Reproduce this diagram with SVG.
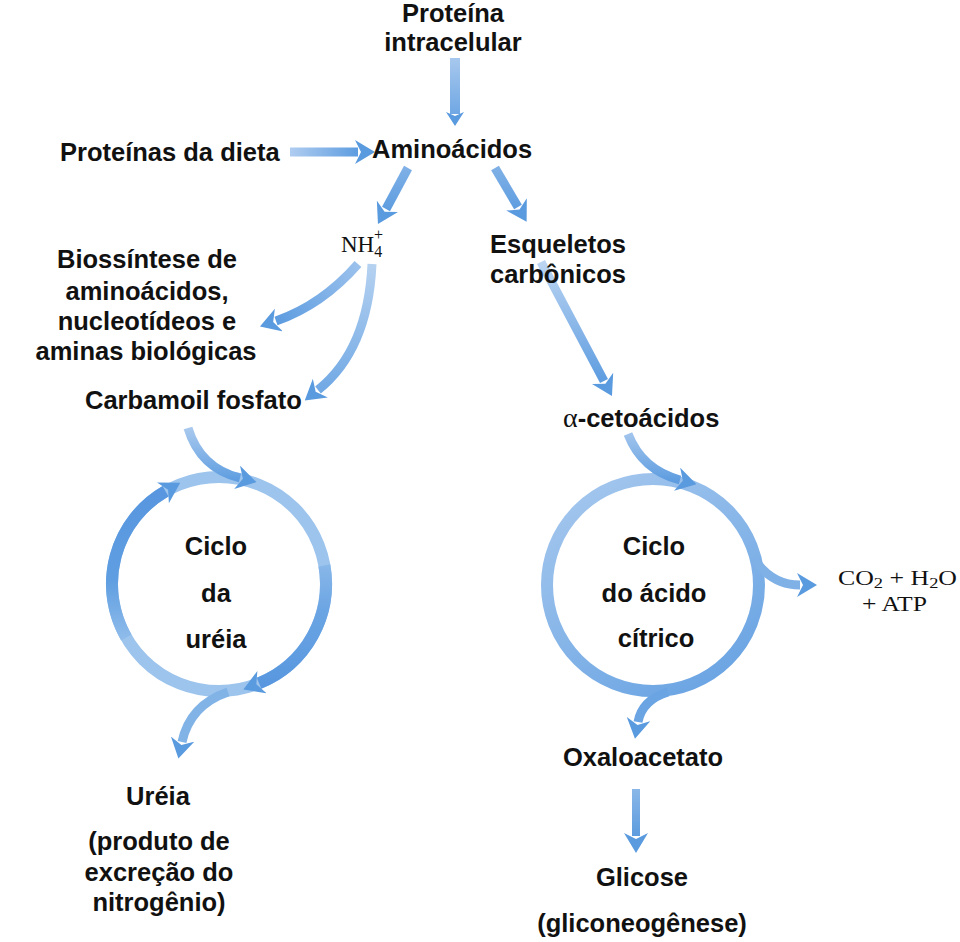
<svg xmlns="http://www.w3.org/2000/svg" width="960" height="942" viewBox="0 0 960 942">
<style>
.t{font-family:"Liberation Sans",Arial,sans-serif;font-weight:bold;font-size:25.5px;fill:#111}
.m{text-anchor:middle}
.s{font-family:"Liberation Serif","Times New Roman",serif;font-weight:normal;fill:#111}
.c{fill:none;stroke-linecap:butt}
</style>
<defs>
<marker id="ah" viewBox="0 0 20 24" refX="3" refY="12" markerWidth="20" markerHeight="24" markerUnits="userSpaceOnUse" orient="auto">
<path d="M0,0 L20,12 L0,24 L6,12 z" fill="#5a9ade"/>
</marker>
<marker id="ahs" viewBox="0 0 14 18" refX="2" refY="9" markerWidth="14" markerHeight="18" markerUnits="userSpaceOnUse" orient="auto">
<path d="M0,0 L14,9 L0,18 L4,9 z" fill="#5a9ade"/>
</marker>
<linearGradient id="g1" gradientUnits="userSpaceOnUse" x1="0" y1="56" x2="0" y2="118"><stop offset="0" stop-color="#a9c9ee"/><stop offset="1" stop-color="#6ca5e3"/></linearGradient>
<linearGradient id="g2" gradientUnits="userSpaceOnUse" x1="290" y1="0" x2="360" y2="0"><stop offset="0" stop-color="#b0cdf0"/><stop offset="1" stop-color="#5b9be0"/></linearGradient>
<linearGradient id="g3" gradientUnits="userSpaceOnUse" x1="0" y1="168" x2="0" y2="210"><stop offset="0" stop-color="#7fb0e6"/><stop offset="1" stop-color="#5e9de0"/></linearGradient>
<linearGradient id="g5" gradientUnits="userSpaceOnUse" x1="360" y1="264" x2="276" y2="321"><stop offset="0" stop-color="#9cc2ed"/><stop offset="1" stop-color="#5d9ce0"/></linearGradient>
<linearGradient id="g6" gradientUnits="userSpaceOnUse" x1="0" y1="264" x2="0" y2="392"><stop offset="0" stop-color="#b6d2f1"/><stop offset="1" stop-color="#70a8e4"/></linearGradient>
<linearGradient id="g7" gradientUnits="userSpaceOnUse" x1="0" y1="262" x2="0" y2="382"><stop offset="0" stop-color="#bcd5f2"/><stop offset="1" stop-color="#5d9ce0"/></linearGradient>
<linearGradient id="g8" gradientUnits="userSpaceOnUse" x1="0" y1="789" x2="0" y2="838"><stop offset="0" stop-color="#8ab7e8"/><stop offset="1" stop-color="#5a9ade"/></linearGradient>
<linearGradient id="gin" gradientUnits="userSpaceOnUse" x1="0" y1="428" x2="0" y2="482"><stop offset="0" stop-color="#a9c9ee"/><stop offset="1" stop-color="#5d9ce0"/></linearGradient>
<linearGradient id="gcit" gradientUnits="userSpaceOnUse" x1="560" y1="480" x2="700" y2="700"><stop offset="0" stop-color="#a6c8ee"/><stop offset="1" stop-color="#6aa4e3"/></linearGradient>
<linearGradient id="gul" gradientUnits="userSpaceOnUse" x1="0" y1="650" x2="0" y2="495"><stop offset="0" stop-color="#98c1ec"/><stop offset="0.45" stop-color="#5f9ee1"/><stop offset="1" stop-color="#5897df"/></linearGradient>
<linearGradient id="gur" gradientUnits="userSpaceOnUse" x1="0" y1="540" x2="0" y2="685"><stop offset="0" stop-color="#98c1ec"/><stop offset="0.5" stop-color="#6aa4e3"/><stop offset="1" stop-color="#5897df"/></linearGradient>
</defs>

<g id="connectors">
<path class="c" d="M455,58 L455,114" stroke="url(#g1)" stroke-width="10" marker-end="url(#ahs)"/>
<path class="c" d="M290,152 L358,152" stroke="url(#g2)" stroke-width="9" marker-end="url(#ah)"/>
<path class="c" d="M408,168 L386,209" stroke="url(#g3)" stroke-width="9" marker-end="url(#ah)"/>
<path class="c" d="M495,168 L518,207" stroke="url(#g3)" stroke-width="9" marker-end="url(#ah)"/>
<path class="c" d="M358,264 Q322,305 276,321" stroke="url(#g5)" stroke-width="9" marker-end="url(#ah)"/>
<path class="c" d="M372,264 Q368,350 318,390" stroke="url(#g6)" stroke-width="9" marker-end="url(#ah)"/>
<path class="c" d="M541,262 L604,381" stroke="url(#g7)" stroke-width="9" marker-end="url(#ah)"/>
<path class="c" d="M636,789 L636,836" stroke="url(#g8)" stroke-width="8" marker-end="url(#ah)"/>

<!-- urea cycle -->
<circle class="c" cx="219" cy="584" r="107" stroke="#9cc4ed" stroke-width="12"/>
<path class="c" d="M126.3,637.5 A107,107 0 0 1 165.5,491.3" stroke="url(#gul)" stroke-width="12" marker-end="url(#ah)"/>
<path class="c" d="M324.4,565.4 A107,107 0 0 1 259.1,683.2" stroke="url(#gur)" stroke-width="12" marker-end="url(#ah)"/>
<path class="c" d="M188,428 Q200,468 240,478" stroke="url(#gin)" stroke-width="9" marker-end="url(#ah)"/>
<path class="c" d="M228,692 Q190,705 182,742" stroke="#82b3e7" stroke-width="9" marker-end="url(#ah)"/>

<!-- citric acid cycle -->
<circle class="c" cx="653" cy="585" r="106" stroke="url(#gcit)" stroke-width="12"/>
<path class="c" d="M628,434 Q642,470 680,480" stroke="url(#gin)" stroke-width="9" marker-end="url(#ah)"/>
<path class="c" d="M755,560 Q772,585 800,585" stroke="#7fb0e6" stroke-width="9" marker-end="url(#ah)"/>
<path class="c" d="M668,692 Q642,700 638,722" stroke="#6aa4e3" stroke-width="9" marker-end="url(#ah)"/>
</g>

<g id="n-proteina-intracelular">
<text class="t m" x="453" y="22">Proteína</text>
<text class="t m" x="453" y="51">intracelular</text>
</g>
<g id="n-proteinas-dieta"><text class="t" x="60" y="161">Proteínas da dieta</text></g>
<g id="n-aminoacidos"><text class="t" x="372" y="158">Aminoácidos</text></g>
<g id="n-nh4">
<text class="s" x="341" y="252" font-size="23">NH<tspan font-size="16" dy="5">4</tspan></text>
<text class="s" x="374" y="240" font-size="16">+</text>
</g>
<g id="n-esqueletos">
<text class="t" x="490" y="253">Esqueletos</text>
<text class="t" x="490" y="283">carbônicos</text>
</g>
<g id="n-biossintese">
<text class="t m" x="147" y="268">Biossíntese de</text>
<text class="t m" x="147" y="300">aminoácidos,</text>
<text class="t m" x="147" y="330">nucleotídeos e</text>
<text class="t m" x="146" y="360">aminas biológicas</text>
</g>
<g id="n-carbamoil"><text class="t" x="85" y="409">Carbamoil fosfato</text></g>
<g id="n-cetoacidos"><text class="t" x="563" y="427"><tspan class="s" font-size="28">α</tspan>-cetoácidos</text></g>
<g id="n-ciclo-ureia">
<text class="t m" x="216" y="555">Ciclo</text>
<text class="t m" x="216" y="602">da</text>
<text class="t m" x="216" y="648">uréia</text>
</g>
<g id="n-ciclo-citrico">
<text class="t m" x="654" y="555">Ciclo</text>
<text class="t m" x="654" y="602">do ácido</text>
<text class="t m" x="656" y="647">cítrico</text>
</g>
<g id="n-co2">
<text class="s" x="838" y="585" font-size="21" textLength="119" lengthAdjust="spacingAndGlyphs">CO<tspan font-size="15" dy="3">2</tspan><tspan dy="-3"> + H</tspan><tspan font-size="15" dy="3">2</tspan><tspan dy="-3">O</tspan></text>
<text class="s" x="862" y="611" font-size="21" textLength="65" lengthAdjust="spacingAndGlyphs">+ ATP</text>
</g>
<g id="n-ureia">
<text class="t m" x="158" y="805">Uréia</text>
<text class="t m" x="159" y="850">(produto de</text>
<text class="t m" x="159" y="881">excreção do</text>
<text class="t m" x="159" y="911">nitrogênio)</text>
</g>
<g id="n-oxaloacetato"><text class="t m" x="643" y="766">Oxaloacetato</text></g>
<g id="n-glicose">
<text class="t m" x="642" y="886">Glicose</text>
<text class="t m" x="642" y="932">(gliconeogênese)</text>
</g>
</svg>
